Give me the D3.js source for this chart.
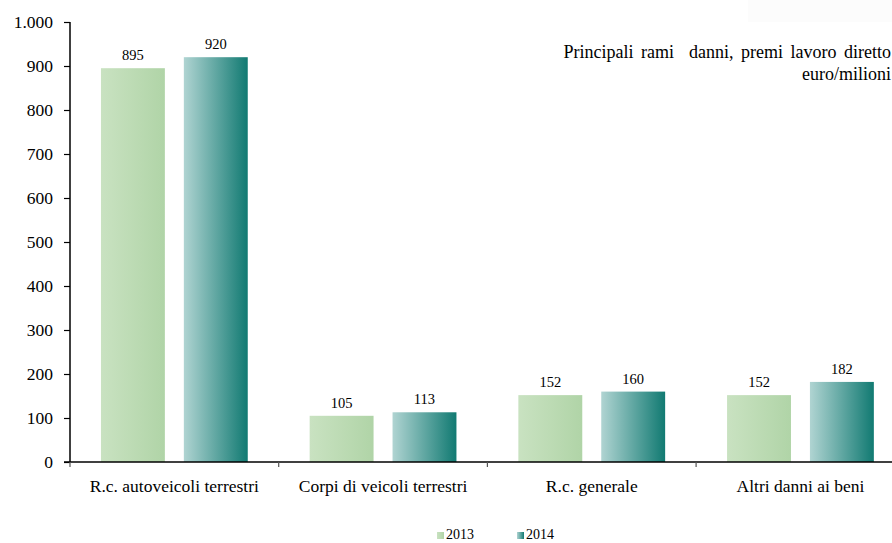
<!DOCTYPE html>
<html><head><meta charset="utf-8">
<script src="https://cdn.jsdelivr.net/npm/d3@7"></script>
<style>body{margin:0;background:#fff}svg{display:block}</style>
</head><body><svg id="c" width="892" height="543"></svg>
<script>
const categories = ["R.c. autoveicoli terrestri","Corpi di veicoli terrestri","R.c. generale","Altri danni ai beni"];
const seriesNames = ["2013","2014"];
const values2013 = [895,105,152,152];
const values2014 = [920,113,160,182];
const yTicks = [0,100,200,300,400,500,600,700,800,900,1000];
const yTickLabels = ["0","100","200","300","400","500","600","700","800","900","1.000"];
const titleLines = ["Principali rami  danni, premi lavoro diretto","euro/milioni"];

const FONT = "'Liberation Serif'";
const svg = d3.select("#c");
const defs = svg.append("defs");
function grad(id, c0, c1){
  const g = defs.append("linearGradient").attr("id",id).attr("x1","0%").attr("x2","100%").attr("y1","0%").attr("y2","0%");
  g.append("stop").attr("offset","0%").attr("stop-color",c0);
  g.append("stop").attr("offset","100%").attr("stop-color",c1);
}
grad("g2013","#c9e2c1","#b0d4a7");
grad("g2014","#b0d4d2","#117a72");
const fills = ["url(#g2013)","url(#g2014)"];

const x0 = 70, catW = 208.7;
const x = d3.scaleBand().domain(categories).range([x0, x0 + catW*4]).paddingInner(0).paddingOuter(0);
const xs = d3.scaleBand().domain(seriesNames).range([0, catW]).paddingInner(19/83).paddingOuter(31/83);
const y = d3.scaleLinear().domain([0,1000]).range([462,22]);

svg.append("rect").attr("x",748).attr("y",0).attr("width",144).attr("height",22).attr("fill","#fcfcfc");

const data = categories.map((c,i)=>({c, v:[values2013[i], values2014[i]]}));
const groups = svg.selectAll("g.cat").data(data).join("g").attr("class","cat").attr("transform",d=>`translate(${x(d.c)},0)`);
seriesNames.forEach((s,si)=>{
  groups.append("rect").attr("x",xs(s)).attr("width",xs.bandwidth())
    .attr("y",d=>y(d.v[si])).attr("height",d=>y(0)-y(d.v[si])).attr("fill",fills[si]);
  groups.append("text").attr("x",xs(s)+xs.bandwidth()/2).attr("y",d=>y(d.v[si])-8)
    .attr("text-anchor","middle").style("font-family",FONT).style("font-size","14.5px").text(d=>d.v[si]);
});

// y axis
const ya = svg.append("g").attr("transform","translate(70,0)")
  .call(d3.axisLeft(y).tickValues(yTicks).tickFormat((d,i)=>yTickLabels[i]).tickSize(6).tickPadding(11));
ya.attr("font-family",null).attr("font-size",null);
ya.select(".domain").attr("stroke","#000").attr("stroke-width",1.5).attr("d","M0,22V462");
ya.selectAll(".tick line").attr("stroke","#000").attr("stroke-width",1.2);
ya.selectAll(".tick text").style("font-size","17.5px").style("font-family",FONT).attr("fill","#000");

// x axis
const xa = svg.append("g").attr("transform","translate(0,462)");
xa.append("line").attr("x1",64).attr("x2",892).attr("y1",0).attr("y2",0).attr("stroke","#000").attr("stroke-width",1.5);
const bounds = d3.range(0,5).map(i=>x0+catW*i);
xa.selectAll("line.tk").data(bounds).join("line").attr("class","tk")
  .attr("x1",d=>d).attr("x2",d=>d).attr("y1",0).attr("y2",5).attr("stroke","#555").attr("stroke-width",1.2);
xa.selectAll("text").data(categories).join("text")
  .attr("x",d=>x(d)+catW/2).attr("y",30).attr("text-anchor","middle")
  .style("font-family",FONT).style("font-size","17.5px").text(d=>d);

// title
svg.selectAll("text.title").data(titleLines).join("text").attr("class","title")
  .attr("x",891).attr("y",(d,i)=>58+i*22).attr("text-anchor","end")
  .style("font-family",FONT).style("font-size","18px").style("word-spacing","3px").style("white-space","pre").text(d=>d);

// legend
const leg = [{n:"2013",x:437},{n:"2014",x:517}];
leg.forEach((l,i)=>{
  svg.append("rect").attr("x",l.x).attr("y",532).attr("width",7).attr("height",7).attr("fill",fills[i]);
  svg.append("text").attr("x",l.x+9).attr("y",539).style("font-family",FONT).style("font-size","14px").text(l.n);
});
</script></body></html>
